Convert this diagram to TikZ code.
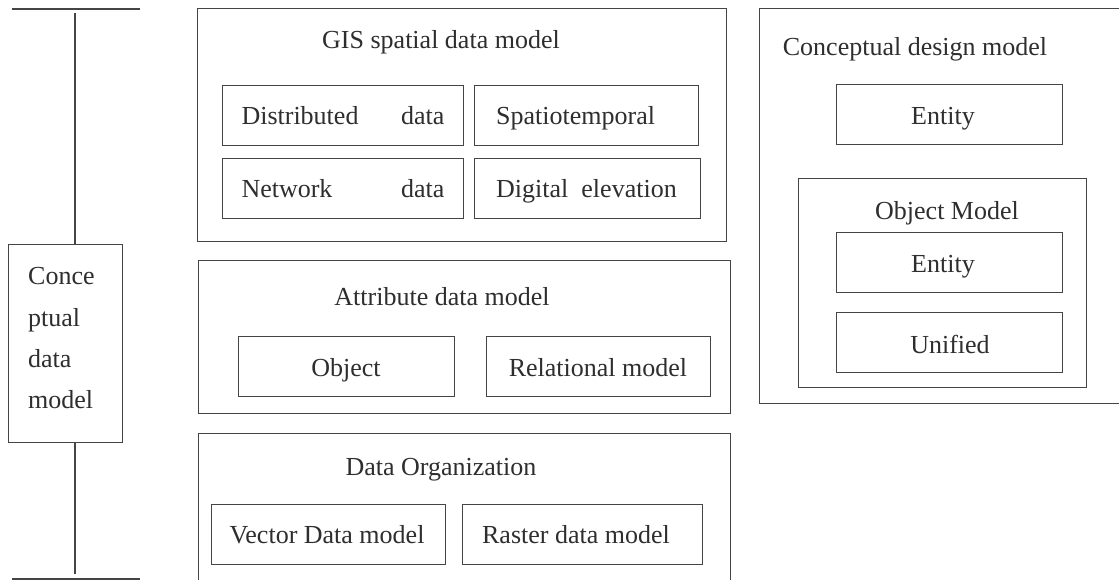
\documentclass[tikz,border=0pt]{standalone}
\usepackage{fontspec}
\setmainfont{Liberation Serif}
\definecolor{linegray}{HTML}{454545}
\definecolor{textgray}{HTML}{2E2E2E}
\begin{document}
\begin{tikzpicture}[x=1pt,y=-1pt,
  box/.style={draw=linegray, line width=1.4pt, inner sep=0pt, anchor=north west},
  txt/.style={text=textgray, font=\fontsize{26}{30}\selectfont, inner sep=0pt, anchor=base},
  ltxt/.style={txt, anchor=base west},
  rule/.style={draw=linegray, line width=1.4pt}]
\clip (0,0) rectangle (1119,580);
\fill[white] (0,0) rectangle (1119,580);

% ---- left bracket: conceptual data model ----
\node[box, minimum width=114pt, minimum height=198pt] (cdata) at (8,244) {};
\node[ltxt] (cd1) at (28,284) {Conce};
\node[ltxt] (cd2) at (28,326) {ptual};
\node[ltxt] (cd3) at (28,367) {data};
\node[ltxt] (cd4) at (28,408) {model};
\coordinate (barTL) at (12,9);
\coordinate (barTR) at (140,9);
\coordinate (barBL) at (12,579);
\coordinate (barBR) at (140,579);
\coordinate (stemTop) at (75,13);
\coordinate (stemBot) at (75,574);
\draw[rule] (barTL) -- (barTR);
\draw[rule] (barBL) -- (barBR);
\draw[rule] (stemTop) -- (stemTop |- cdata.north);
\draw[rule] (stemBot |- cdata.south) -- (stemBot);

% ---- GIS spatial data model ----
\node[box, minimum width=529pt, minimum height=233pt] (gis) at (197,8) {};
\node[txt] (gisT) at (441,49) {GIS spatial data model};
\node[box, minimum width=241pt, minimum height=60pt] (dist) at (222,85) {};
\node[box, minimum width=224pt, minimum height=60pt] (spat) at (474,85) {};
\node[box, minimum width=241pt, minimum height=60pt] (net) at (222,158) {};
\node[box, minimum width=226pt, minimum height=60pt] (dig) at (474,158) {};
\node[txt] (distT) at (343,125) {\makebox[203pt][s]{Distributed data}};
\node[txt] (netT) at (343,198) {\makebox[203pt][s]{Network data}};
\node[ltxt] (spatT) at (496,125) {Spatiotemporal};
\node[ltxt] (digT) at (496,198) {Digital\ \ elevation};

% ---- Attribute data model ----
\node[box, minimum width=532pt, minimum height=153pt] (attr) at (198,260) {};
\node[txt] (attrT) at (442,305) {Attribute data model};
\node[box, minimum width=216pt, minimum height=60pt] (obj) at (238,336) {};
\node[box, minimum width=224pt, minimum height=60pt] (rel) at (486,336) {};
\node[txt] (objT) at (346,376) {Object};
\node[txt] (relT) at (598,376) {Relational model};

% ---- Data Organization ----
\node[box, minimum width=532pt, minimum height=170pt] (org) at (198,433) {};
\node[txt] (orgT) at (441,475) {Data Organization};
\node[box, minimum width=234pt, minimum height=60pt] (vec) at (211,504) {};
\node[box, minimum width=240pt, minimum height=60pt] (ras) at (462,504) {};
\node[txt] (vecT) at (327,543) {Vector Data model};
\node[txt] (rasT) at (576,543) {Raster data model};

% ---- Conceptual design model ----
\node[box, minimum width=371pt, minimum height=395pt] (cdm) at (759,8) {};
\node[txt] (cdmT) at (915,56) {Conceptual design model};
\node[box, minimum width=226pt, minimum height=60pt] (ent1) at (836,84) {};
\node[txt] (ent1T) at (943,125) {Entity};
\node[box, minimum width=288pt, minimum height=209pt] (om) at (798,178) {};
\node[txt] (omT) at (947,219) {Object Model};
\node[box, minimum width=226pt, minimum height=60pt] (ent2) at (836,232) {};
\node[txt] (ent2T) at (943,272) {Entity};
\node[box, minimum width=226pt, minimum height=60pt] (uni) at (836,312) {};
\node[txt] (uniT) at (950,353) {Unified};
\end{tikzpicture}
\end{document}
